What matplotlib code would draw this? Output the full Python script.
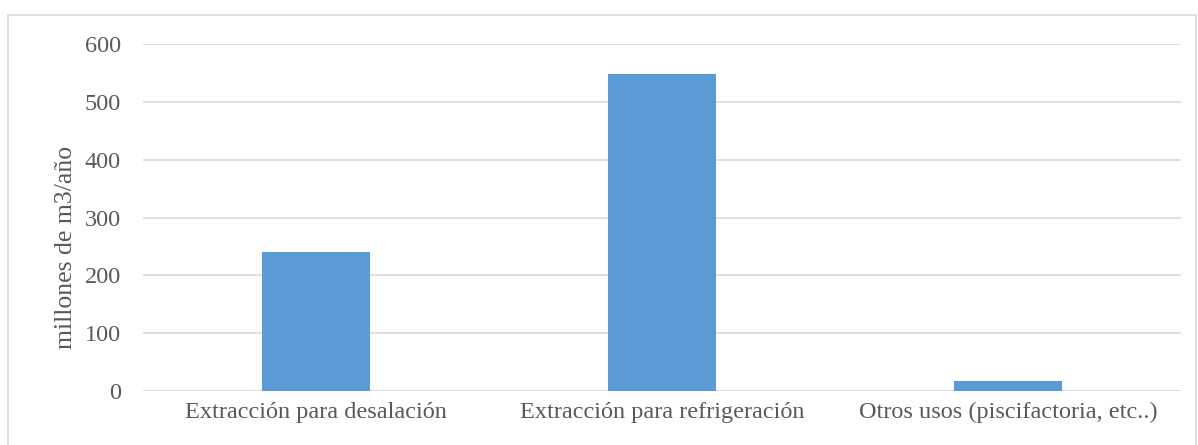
import matplotlib.pyplot as plt
from matplotlib.patches import Rectangle

categories = ['Extracción para desalación', 'Extracción para refrigeración',
              'Otros usos (piscifactoria, etc..)']
values = [240, 548, 17]
yticks = [0, 100, 200, 300, 400, 500, 600]

plt.rcParams['font.family'] = ['Liberation Serif', 'DejaVu Serif']
textcolor = '#595959'

fig = plt.figure(figsize=(11.98, 4.45), dpi=100)
W, H = 1198, 445
ax = fig.add_axes([143 / W, 1 - 391 / H, (1181 - 143) / W, (391 - 44) / H])

# chart frame
fig.patches.append(Rectangle((8 / W, -0.01), (1196 - 8) / W, 1 - 15 / H + 0.01,
                             transform=fig.transFigure, fill=False,
                             edgecolor='#D9D9D9', linewidth=1.2))

x = range(len(categories))
ax.bar(x, values, width=0.31, color='#5B9BD5', zorder=3)
ax.set_xlim(-0.5, 2.5)
ax.set_ylim(0, 600)
ax.set_yticks(yticks)
ax.yaxis.grid(True, color='#D9D9D9', linewidth=1.2, zorder=0)
ax.set_xticks(list(x))
ax.set_xticklabels(categories)
for s in ax.spines.values():
    s.set_visible(False)
ax.tick_params(length=0, labelsize=17.5, colors=textcolor)
ax.tick_params(axis='y', pad=16)
ax.tick_params(axis='x', pad=8)
ax.set_ylabel('millones de m3/año', fontsize=18.5, color=textcolor)
ax.yaxis.set_label_coords(-0.064, 0.413)

fig.savefig('out.png', dpi=100)
